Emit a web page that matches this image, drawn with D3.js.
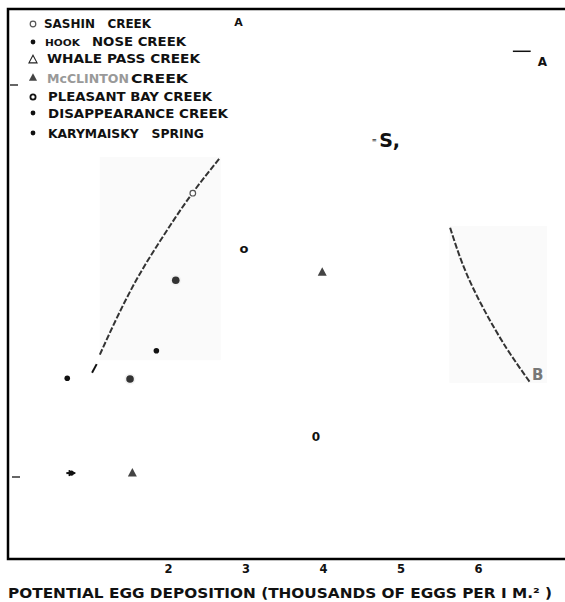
<!DOCTYPE html>
<html>
<head>
<meta charset="utf-8">
<script src="https://cdn.jsdelivr.net/npm/d3@7/dist/d3.min.js"></script>
<style>
  body { margin: 0; background: #fff; }
  svg { display: block; }
  text { font-family: "DejaVu Sans", Verdana, sans-serif; font-weight: bold; white-space: pre; }
</style>
</head>
<body>
<div id="chart"></div>
<script>
// creeks shown in the key
const creeks = ["SASHIN   CREEK", "NOSE CREEK", "WHALE PASS CREEK", "CREEK",
  "PLEASANT BAY CREEK", "DISAPPEARANCE CREEK", "KARYMAISKY   SPRING"];
const creekPrefix = ["", "HOOK", "", "McCLINTON", "", "", ""];
const creekSymbol = ["ring", "dot", "tri", "filltri", "o", "dot", "dot"];

// x: potential egg deposition (thousands per m2), y: unlabelled index
const xTicks = [2, 3, 4, 5, 6];
const yTicks = [1, 6];

// observed points
const pointX = [2.32, 2.98, 3.99, 3.91, 2.10, 1.85, 0.70, 1.51, 0.74, 1.54];
const pointY = [4.62, 3.91, 3.62, 1.51, 3.51, 2.61, 2.26, 2.25, 1.05, 1.06];
const pointSym = ["ring", "o", "filltri", "0", "blob", "dot", "dot", "blob", "cross", "filltri"];

// fitted curves A and B
const curveAX = [1.12, 1.36, 1.63, 1.95, 2.30, 2.67];
const curveAY = [2.56, 3.07, 3.58, 4.09, 4.60, 5.07];
const stubAX = [1.02, 1.08];
const stubAY = [2.33, 2.44];
const curveBX = [5.64, 5.82, 6.07, 6.37, 6.67];
const curveBY = [4.18, 3.67, 3.15, 2.64, 2.21];

// labels written on the plot
const noteText = ["A", "A", "S,", "B"];
const noteX = [2.91, 6.83, 4.86, 6.77];
const noteY = [6.75, 6.24, 5.21, 2.24];

const width = 565, height = 602;
const frame = { left: 8, top: 9, bottom: 559 };

const x = d3.scaleLinear().domain([0, 7]).range([13, 555.5]);
const y = d3.scaleLinear().domain([0, 7]).range([555.4, 6.6]);

const svg = d3.select("#chart").append("svg")
  .attr("width", width)
  .attr("height", height);

// faint scan patches behind the curves
const patches = [[1.12, 2.68, 5.08, 2.49], [5.63, 6.89, 4.2, 2.2]];
svg.append("g").selectAll("rect").data(patches).enter().append("rect")
  .attr("x", d => x(d[0]))
  .attr("y", d => y(d[2]))
  .attr("width", d => x(d[1]) - x(d[0]))
  .attr("height", d => y(d[3]) - y(d[2]))
  .attr("fill", "#fafafa");

// frame: left, top and bottom only
svg.append("path")
  .attr("d", `M${width},${frame.top}H${frame.left}V${frame.bottom}H${width}`)
  .attr("fill", "none")
  .attr("stroke", "#000")
  .attr("stroke-width", 2.5);

// little y ticks
svg.append("g").selectAll("line").data(yTicks).enter().append("line")
  .attr("x1", (d, i) => i === 0 ? 12 : 10)
  .attr("x2", (d, i) => i === 0 ? 20 : 18)
  .attr("y1", d => y(d))
  .attr("y2", d => y(d))
  .attr("stroke", "#333")
  .attr("stroke-width", 1.5);

// x axis labels
const xAxis = svg.append("g")
  .attr("transform", `translate(0,${frame.bottom + 6})`)
  .call(d3.axisBottom(x).tickValues(xTicks).tickFormat(d3.format("d")).tickSize(0).tickPadding(0));
xAxis.select(".domain").remove();
xAxis.selectAll("text")
  .attr("font-size", 11.5)
  .attr("font-family", "DejaVu Sans")
  .attr("font-weight", "bold")
  .attr("fill", "#111");

svg.append("text")
  .attr("x", 8)
  .attr("y", 598)
  .attr("font-size", 13.5)
  .attr("textLength", 544)
  .attr("lengthAdjust", "spacingAndGlyphs")
  .attr("fill", "#111")
  .text("POTENTIAL EGG DEPOSITION (THOUSANDS OF EGGS PER I M.\u00b2 )");

// curves
const line = d3.line().x(d => x(d[0])).y(d => y(d[1])).curve(d3.curveNatural);
const curves = [d3.zip(curveAX, curveAY), d3.zip(curveBX, curveBY)];
svg.append("g").selectAll("path").data(curves).enter().append("path")
  .attr("d", line)
  .attr("fill", "none")
  .attr("stroke", "#333")
  .attr("stroke-width", 2)
  .attr("stroke-dasharray", "6,2");
svg.append("path")
  .attr("d", line(d3.zip(stubAX, stubAY)))
  .attr("stroke", "#111")
  .attr("stroke-width", 2);

// symbol drawing shared by key and plot
function drawSymbol(g, kind, cx, cy, big) {
  const s = big ? 1 : 0.9;
  if (kind === "ring") {
    g.append("circle").attr("cx", cx).attr("cy", cy).attr("r", 2.8)
      .attr("fill", "#fff").attr("stroke", "#555").attr("stroke-width", 1.2);
  } else if (kind === "dot") {
    g.append("circle").attr("cx", cx).attr("cy", cy).attr("r", big ? 2.8 : 2.4)
      .attr("fill", "#111");
  } else if (kind === "blob") {
    g.append("circle").attr("cx", cx).attr("cy", cy).attr("r", 5.5)
      .attr("fill", "#f2f2f2");
    g.append("circle").attr("cx", cx).attr("cy", cy).attr("r", 3.8)
      .attr("fill", "#333");
  } else if (kind === "tri" || kind === "filltri") {
    const w = 9 * s, h = 8.5 * s;
    g.append("path")
      .attr("d", `M${cx},${cy - h / 2}L${cx + w / 2},${cy + h / 2}L${cx - w / 2},${cy + h / 2}Z`)
      .attr("fill", kind === "tri" ? "#fff" : "#444")
      .attr("stroke", kind === "tri" ? "#222" : "none")
      .attr("stroke-width", 1.1);
  } else if (kind === "o" || kind === "0") {
    g.append("text").attr("x", cx).attr("y", cy + 4)
      .attr("text-anchor", "middle")
      .attr("font-size", kind === "o" ? 13 : 12)
      .attr("fill", "#111")
      .text(kind);
  } else if (kind === "cross") {
    g.append("circle").attr("cx", cx + 1).attr("cy", cy).attr("r", 2.6).attr("fill", "#111");
    g.append("line").attr("x1", cx - 4).attr("x2", cx + 5).attr("y1", cy).attr("y2", cy)
      .attr("stroke", "#111").attr("stroke-width", 2);
    g.append("line").attr("x1", cx - 1).attr("x2", cx - 1).attr("y1", cy - 3).attr("y2", cy + 3)
      .attr("stroke", "#111").attr("stroke-width", 1.5);
  }
}

const pts = svg.append("g");
pointX.forEach((px, i) => drawSymbol(pts, pointSym[i], x(px), y(pointY[i]), true));

// key
const keyBase = [28, 46, 63, 83, 101, 118, 138];
const keyStart = [44, 92, 47, 131, 48, 48, 48];
const keyEnd = [151, 186, 200, 188, 212, 228, 204];
const keySymY = [24, 42, 59, 77, 97, 113, 133];
const key = svg.append("g");
creeks.forEach((name, i) => {
  if (creekSymbol[i] !== "o") drawSymbol(key, creekSymbol[i], 33, keySymY[i], false);
  key.append("text")
    .attr("x", keyStart[i])
    .attr("y", keyBase[i])
    .attr("font-size", i === 0 ? 12 : 12.5)
    .attr("textLength", keyEnd[i] - keyStart[i])
    .attr("lengthAdjust", "spacingAndGlyphs")
    .attr("fill", "#111")
    .text(name);
});
// bold o for pleasant bay in the key
key.append("circle").attr("cx", 33).attr("cy", keySymY[4]).attr("r", 2.6)
  .attr("fill", "none").attr("stroke", "#111").attr("stroke-width", 1.8);
key.append("text").attr("x", 45).attr("y", 46).attr("font-size", 9.5)
  .attr("textLength", 35).attr("lengthAdjust", "spacingAndGlyphs")
  .attr("fill", "#111").text(creekPrefix[1]);
key.append("text").attr("x", 47).attr("y", 83).attr("font-size", 12)
  .attr("font-weight", "normal")
  .attr("textLength", 82).attr("lengthAdjust", "spacingAndGlyphs")
  .attr("fill", "#999").text(creekPrefix[3]);

// annotations on the plot
const notes = svg.append("g");
notes.selectAll("text").data(noteText).enter().append("text")
  .attr("x", (d, i) => x(noteX[i]))
  .attr("y", (d, i) => y(noteY[i]))
  .attr("text-anchor", "middle")
  .attr("font-size", (d, i) => [11, 12, 19, 15][i])
  .attr("font-weight", (d, i) => i === 3 ? "normal" : "bold")
  .attr("fill", (d, i) => i === 3 ? "#777" : "#111")
  .text(d => d);
notes.append("text")
  .attr("x", x(noteX[2]) - 18).attr("y", y(noteY[2]) - 5)
  .attr("font-size", 6).attr("fill", "#333").text("=");
notes.append("line")
  .attr("x1", x(6.45)).attr("x2", x(6.68))
  .attr("y1", y(6.43)).attr("y2", y(6.43))
  .attr("stroke", "#111").attr("stroke-width", 1.5);
</script>
</body>
</html>
